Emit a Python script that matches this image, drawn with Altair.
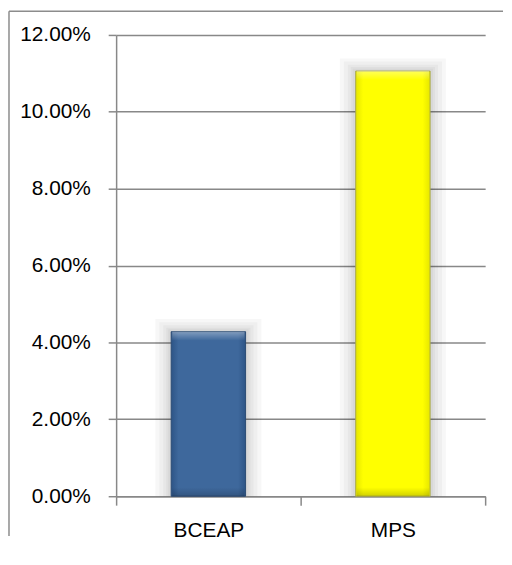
import altair as alt
import pandas as pd

categories = ["BCEAP", "MPS"]
values = [0.0428, 0.1106]
y_ticks = [0.0, 0.02, 0.04, 0.06, 0.08, 0.10, 0.12]

df = pd.DataFrame({"category": categories, "value": values})

W, H = 372, 465
GRID = "#888888"
FONT = "Liberation Sans"
BAR = 75

x_enc = alt.X(
    "category:N", sort=categories, title=None,
    scale=alt.Scale(paddingInner=0, paddingOuter=0),
    axis=alt.Axis(labelAngle=0, tickBand="extent", tickSize=9, tickColor=GRID,
                  tickWidth=1.5, domainColor=GRID, domainWidth=1.5,
                  labelFont=FONT, labelFontSize=21, labelColor="black",
                  labelPadding=15, grid=False),
)
y_enc = alt.Y(
    "value:Q", title=None,
    scale=alt.Scale(domain=[0, 0.12], nice=False),
    axis=alt.Axis(format=".2%", values=y_ticks, tickSize=8, tickColor=GRID,
                  tickWidth=1.5, domainColor=GRID, domainWidth=1.5,
                  grid=True, gridColor=GRID, gridWidth=1.5,
                  labelFont=FONT, labelFontSize=21, labelColor="black",
                  labelPadding=18),
)

base = alt.Chart(df)

# soft glow (shadow) around bars
glow = [
    base.mark_bar(size=BAR + 2 * k, color="#000000", opacity=0.03,
                  yOffset=-k * 0.8).encode(x=x_enc, y=y_enc, y2=alt.datum(0))
    for k in (16, 12, 8, 5, 3)
]

def grad_h(edge, mid):
    return alt.LinearGradient(
        gradient="linear", x1=0, x2=1, y1=0, y2=0,
        stops=[alt.GradientStop(offset=0, color=edge),
               alt.GradientStop(offset=0.1, color=mid),
               alt.GradientStop(offset=0.9, color=mid),
               alt.GradientStop(offset=1, color=edge)])

def grad_v(px, val):
    h = val / 0.12 * H
    f = min(0.45, px / h)
    return alt.LinearGradient(
        gradient="linear", x1=0, x2=0, y1=0, y2=1,
        stops=[alt.GradientStop(offset=0, color="rgba(255,255,255,0.35)"),
               alt.GradientStop(offset=f, color="rgba(255,255,255,0)"),
               alt.GradientStop(offset=1 - f, color="rgba(0,0,0,0)"),
               alt.GradientStop(offset=1, color="rgba(0,0,0,0.18)")])

styles = {
    "BCEAP": ("#2d5486", "#3e689c", "#2b4a72"),
    "MPS": ("#e6e600", "#ffff00", "#a8a84a"),
}

bars = []
for cat, val in zip(categories, values):
    edge, mid, stroke = styles[cat]
    sub = base.transform_filter(alt.datum.category == cat)
    bars.append(sub.mark_bar(size=BAR, fill=grad_h(edge, mid), stroke=stroke,
                             strokeWidth=1).encode(x=x_enc, y=y_enc, y2=alt.datum(0)))
    bars.append(sub.mark_bar(size=BAR - 2, fill=grad_v(9, val))
                .encode(x=x_enc, y=y_enc, y2=alt.datum(0)))

frame_df = pd.DataFrame({"a": [0]})
frame_top = alt.Chart(frame_df).mark_rule(color="#8c8c8c", strokeWidth=1.5).encode(
    x=alt.value(-108), x2=alt.value(390), y=alt.value(-24))
frame_left = alt.Chart(frame_df).mark_rule(color="#8c8c8c", strokeWidth=1.5).encode(
    x=alt.value(-108), y=alt.value(-24), y2=alt.value(H + 40))

chart = alt.layer(*glow, *bars, frame_top, frame_left).properties(
    width=W, height=H, padding=0, background="white"
).configure_view(strokeWidth=0)

chart.save("out.html", embed_options={"renderer": "svg", "actions": False})
